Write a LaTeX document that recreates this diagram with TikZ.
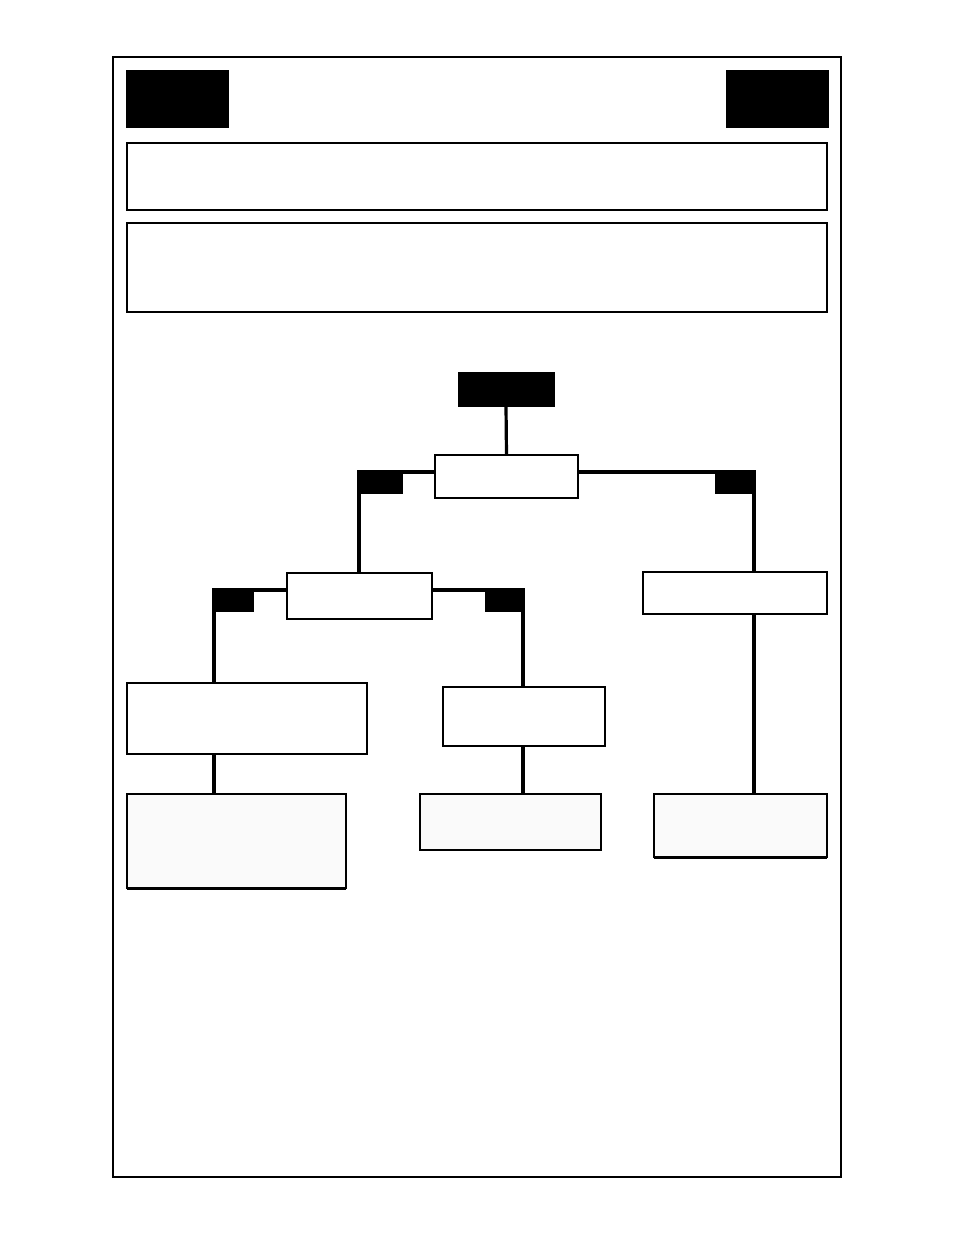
\documentclass[tikz,border=0pt]{standalone}
\usepackage{xcolor}

\definecolor{paleFill}{RGB}{250,250,250}

\begin{document}
\begin{tikzpicture}[x=1pt,y=1pt,yscale=-1,xscale=1,
  box/.style={draw,line width=1.4pt,fill=white,inner sep=0pt,outer sep=0pt,anchor=north west},
  leafbox/.style={box,fill=paleFill},
  blackbox/.style={draw,fill=black,line width=1pt,inner sep=0pt,outer sep=0pt,anchor=north west},
  conn/.style={line width=3.2pt}]
\useasboundingbox (0,0) rectangle (954,1235);

%Shape: Rectangle [frame]
\draw [line width=2pt] (113,57) rectangle (841,1177) ;

%Shape: Rectangle [header corners]
\node [blackbox,minimum width=102pt,minimum height=57pt] (cornerL) at (126,70) {};
\node [blackbox,minimum width=102pt,minimum height=57pt] (cornerR) at (726,70) {};
%Shape: Rectangle [header panels]
\node [box,line width=1.8pt,minimum width=700pt,minimum height=67pt] (panelTop) at (127,143) {};
\node [box,line width=1.8pt,minimum width=700pt,minimum height=89pt] (panelMid) at (127,223) {};

%Shape: Rectangle [tree boxes]
\node [blackbox,minimum width=96pt,minimum height=34pt] (root) at (458,372) {};
\node [box,minimum width=143pt,minimum height=43pt] (split) at (435,455) {};
\node [box,minimum width=145pt,minimum height=46pt] (subsplit) at (287,573) {};
\node [box,minimum width=184pt,minimum height=42pt] (rightArm) at (643,572) {};
\node [box,minimum width=240pt,minimum height=71pt] (leftArm) at (127,683) {};
\node [box,minimum width=162pt,minimum height=59pt] (midArm) at (443,687) {};
\node [leafbox,minimum width=219pt,minimum height=94pt] (leafL) at (127,794) {};
\node [leafbox,minimum width=181pt,minimum height=56pt] (leafM) at (420,794) {};
\node [leafbox,minimum width=173pt,minimum height=63pt] (leafR) at (654,794) {};
\draw [line width=3pt] (leafL.south west) -- (leafL.south east) ;
\draw [line width=3pt] (leafR.south west) -- (leafR.south east) ;
\draw [line width=2.4pt] (subsplit.south west) -- (subsplit.south east) ;

%Shape: Rectangle [branch tabs]
\node [blackbox,minimum width=43pt,minimum height=21pt] (tabSplitL) at (359,472) {};
\node [blackbox,minimum width=39pt,minimum height=21pt] (tabSplitR) at (715,472) {};
\node [blackbox,minimum width=39pt,minimum height=21pt] (tabSubL) at (214,590) {};
\node [blackbox,minimum width=38pt,minimum height=21pt] (tabSubR) at (485,590) {};

%Straight Lines [connectors]
\draw [conn] (root.south) -- (split.north) ;
\draw [conn] (split.west |- tabSplitL.north) -- (tabSplitL.north west) -- (tabSplitL.north west |- subsplit.north) ;
\draw [conn] (split.east |- tabSplitR.north) -- (tabSplitR.north east) -- (tabSplitR.north east |- rightArm.north) ;
\draw [conn] (subsplit.west |- tabSubL.north) -- (tabSubL.north west) -- (tabSubL.north west |- leftArm.north) ;
\draw [conn] (subsplit.east |- tabSubR.north) -- (tabSubR.north east) -- (tabSubR.north east |- midArm.north) ;
\draw [conn] (tabSubL.north west |- leftArm.south) -- (tabSubL.north west |- leafL.north) ;
\draw [conn] (tabSubR.north east |- midArm.south) -- (tabSubR.north east |- leafM.north) ;
\draw [conn] (tabSplitR.north east |- rightArm.south) -- (tabSplitR.north east |- leafR.north) ;

\end{tikzpicture}
\end{document}
